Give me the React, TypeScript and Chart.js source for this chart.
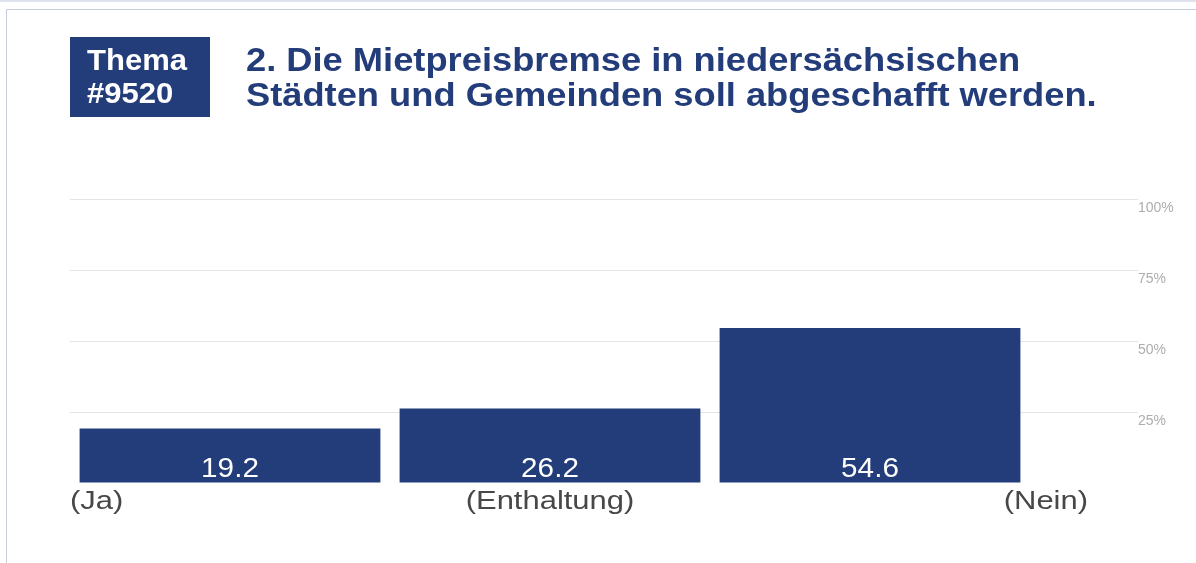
import React, { useEffect, useRef } from "react";
import { Chart, registerables } from "chart.js";

Chart.register(...registerables);

const categories = ["(Ja)", "(Enthaltung)", "(Nein)"];
const values = [19.2, 26.2, 54.6];
const yTicks = [25, 50, 75, 100];
const yTickLabels = ["25%", "50%", "75%", "100%"];
const titleLines = [
  "2. Die Mietpreisbremse in niedersächsischen",
  "Städten und Gemeinden soll abgeschafft werden.",
];
const badgeLines = ["Thema", "#9520"];

const NAVY = "#233c7a";
const FONT = "'Liberation Sans', Arial, Helvetica, sans-serif";

const labelsPlugin = {
  id: "customLabels",
  afterDatasetsDraw(chart: any) {
    const ctx = chart.ctx;
    const meta = chart.getDatasetMeta(0);
    const area = chart.chartArea;
    ctx.save();
    // value labels inside bars
    meta.data.forEach((bar: any, i: number) => {
      ctx.save();
      ctx.translate(bar.x, bar.base - 6);
      ctx.scale(1.06, 1);
      ctx.font = `28px ${FONT}`;
      ctx.fillStyle = "#ffffff";
      ctx.textAlign = "center";
      ctx.textBaseline = "alphabetic";
      ctx.fillText(String(values[i]), 0, 0);
      ctx.restore();
    });
    // category labels
    const y = area.bottom + 26;
    categories.forEach((c, i) => {
      ctx.save();
      let x: number;
      let align: CanvasTextAlign;
      if (i === 0) {
        x = area.left;
        align = "left";
      } else if (i === categories.length - 1) {
        x = area.right + 58;
        align = "right";
      } else {
        x = chart.scales.x.getPixelForValue(i);
        align = "center";
      }
      ctx.translate(x, y);
      ctx.scale(1.19, 1);
      ctx.font = `26px ${FONT}`;
      ctx.fillStyle = "#474747";
      ctx.textAlign = align;
      ctx.textBaseline = "alphabetic";
      ctx.fillText(c, 0, 0);
      ctx.restore();
    });
    ctx.restore();
  },
};

export default function App() {
  const canvasRef = useRef<HTMLCanvasElement | null>(null);

  useEffect(() => {
    if (!canvasRef.current) return;
    const chart = new Chart(canvasRef.current, {
      type: "bar",
      data: {
        labels: categories,
        datasets: [
          {
            data: values,
            backgroundColor: NAVY,
            borderWidth: 0,
            categoryPercentage: 1,
            barPercentage: 0.94,
          },
        ],
      },
      options: {
        animation: false,
        responsive: false,
        maintainAspectRatio: false,
        layout: { padding: { left: 70, top: 199, bottom: 80, right: 0 } },
        plugins: {
          legend: { display: false },
          tooltip: { enabled: false },
          title: { display: false },
        },
        scales: {
          x: {
            display: false,
          },
          y: {
            position: "right",
            min: 0,
            max: 100,
            afterFit: (scale: any) => {
              scale.width = 166;
            },
            afterBuildTicks: (scale: any) => {
              scale.ticks = [0, ...yTicks].map((v) => ({ value: v }));
            },
            border: { display: false },
            grid: {
              color: (c: any) =>
                c.tick && c.tick.value === 0 ? "rgba(0,0,0,0)" : "#e4e4e4",
              lineWidth: 1,
              tickLength: 108,
              drawTicks: true,
            },
            ticks: {
              padding: 0,
              labelOffset: 9,
              color: "#adadad",
              font: { family: FONT, size: 14 },
              callback: (v: any) => {
                const idx = yTicks.indexOf(Number(v));
                return idx >= 0 ? yTickLabels[idx] : "";
              },
            },
          },
        },
      },
      plugins: [labelsPlugin],
    });
    return () => chart.destroy();
  }, []);

  return (
    <div
      style={{
        position: "absolute",
        left: 0,
        top: 0,
        width: 1196,
        height: 563,
        overflow: "hidden",
        background: "#ffffff",
      }}
    >
      <div
        style={{
          position: "absolute",
          left: 0,
          top: 0,
          width: 1196,
          height: 2,
          background: "#dfe2ec",
        }}
      />
      <div
        style={{
          position: "absolute",
          left: 6,
          top: 9,
          width: 1300,
          height: 700,
          border: "1px solid #c8cde0",
          boxSizing: "border-box",
        }}
      />
      <canvas
        ref={canvasRef}
        width={1196}
        height={563}
        style={{ position: "absolute", left: 0, top: 0 }}
      />
      <div
        style={{
          position: "absolute",
          left: 70,
          top: 37,
          width: 140,
          height: 80,
          background: NAVY,
          boxSizing: "border-box",
          padding: "7px 0 0 17px",
          color: "#fff",
          fontFamily: FONT,
          fontWeight: "bold",
          fontSize: 29,
          lineHeight: "33px",
        }}
      >
        {badgeLines.map((l) => (
          <div
            key={l}
            style={{ transform: "scaleX(1.07)", transformOrigin: "left" }}
          >
            {l}
          </div>
        ))}
      </div>
      <div
        style={{
          position: "absolute",
          left: 246,
          top: 42,
          color: NAVY,
          fontFamily: FONT,
          fontWeight: "bold",
          fontSize: 34,
          lineHeight: "35px",
          whiteSpace: "nowrap",
        }}
      >
        {titleLines.map((l) => (
          <div
            key={l}
            style={{ transform: "scaleX(1.067)", transformOrigin: "left" }}
          >
            {l}
          </div>
        ))}
      </div>
    </div>
  );
}
